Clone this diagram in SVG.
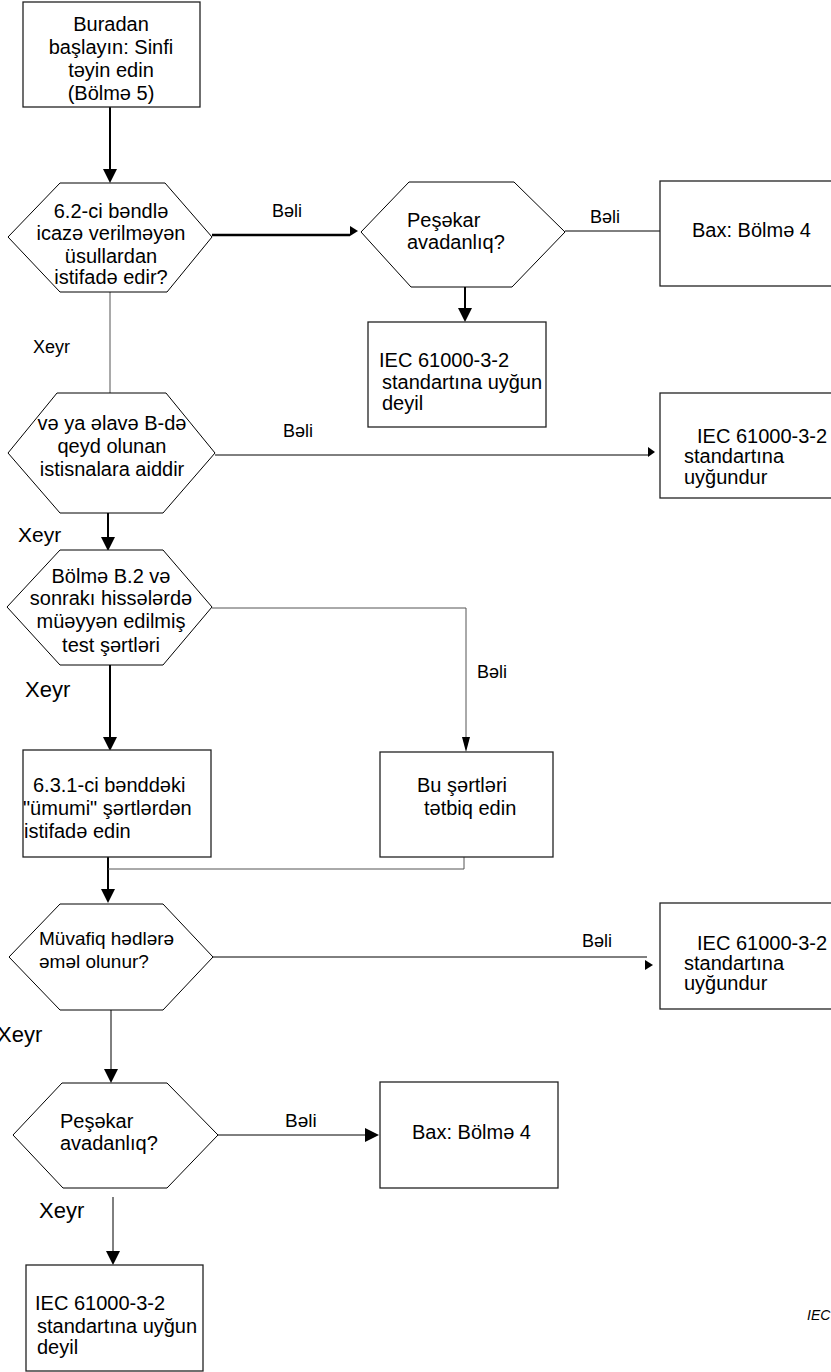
<svg xmlns="http://www.w3.org/2000/svg" width="831" height="1372" viewBox="0 0 831 1372">
<style>
.n{fill:#fff;stroke:#000;stroke-width:1}
.b{fill:#fff;stroke:#222;stroke-width:1.3}
text{font-family:"Liberation Sans",Arial,sans-serif;font-size:20px;fill:#000}
.c{text-anchor:middle}
.lbl{font-size:18px}
.thin{fill:none;stroke:#000;stroke-width:1}
.gray{fill:none;stroke:#555;stroke-width:1}
.thick{fill:none;stroke:#000;stroke-width:2}
.ah{fill:#000}
</style>
<defs>
<marker id="arr" viewBox="0 0 14 14" refX="0" refY="7" markerWidth="14" markerHeight="14" markerUnits="userSpaceOnUse" orient="auto"><path d="M0,0 L14,7 L0,14 Z" fill="#000"/></marker>
</defs>
<rect width="831" height="1372" fill="#fff"/>

<g id="connectors">
<path class="thick" d="M110,107 V169" marker-end="url(#arr)"/>
<path d="M212,235 H350" fill="none" stroke="#000" stroke-width="2.5"/>
<polygon class="ah" points="350,226 358,231 350,236"/>
<path class="thin" d="M565,231 H660"/>
<path class="thick" d="M465,287 V308" marker-end="url(#arr)"/>
<path class="gray" d="M110,292 V393"/>
<path class="thin" d="M215,455 H648"/>
<polygon class="ah" points="648,447 655,452 648,457"/>
<path class="thick" d="M108,513 V537" stroke-width="1.5" marker-end="url(#arr)"/>
<path class="gray" d="M212,608 H466 V737"/>
<polygon class="ah" points="462,737 470,737 466,752"/>
<path class="thick" d="M110,665 V737" marker-end="url(#arr)"/>
<path class="thick" d="M108,857 V889" marker-end="url(#arr)"/>
<path class="gray" d="M464,857 V869 H108"/>
<path class="thin" d="M213,957 H647"/>
<polygon class="ah" points="645,960 653,965 645,970"/>
<path class="thin" d="M111,1010 V1069" stroke-width="1.5" marker-end="url(#arr)"/>
<path class="thin" d="M218,1135 H365" marker-end="url(#arr)"/>
<path class="thin" d="M113,1197 V1251" stroke-width="1.5" marker-end="url(#arr)"/>
</g>

<g id="labels">
<text class="lbl" x="272" y="217">Bəli</text>
<text class="lbl" x="590" y="223">Bəli</text>
<text class="lbl" x="33" y="353">Xeyr</text>
<text class="lbl" x="283" y="437">Bəli</text>
<text x="18" y="542" style="font-size:21px">Xeyr</text>
<text class="lbl" x="477" y="678">Bəli</text>
<text x="25" y="697" style="font-size:22px">Xeyr</text>
<text class="lbl" x="582" y="947">Bəli</text>
<text x="-3" y="1042" style="font-size:22px">Xeyr</text>
<text x="285" y="1127" style="font-size:19px">Bəli</text>
<text x="39" y="1218" style="font-size:22px">Xeyr</text>
<text x="807" y="1320" style="font-size:14px;font-style:italic">IEC</text>
</g>

<g id="start">
<rect class="b" x="23" y="2" width="177" height="105"/>
<text class="c" x="111" y="31">Buradan</text>
<text class="c" x="111" y="54">başlayın: Sinfi</text>
<text class="c" x="111" y="77">təyin edin</text>
<text class="c" x="111" y="100">(Bölmə 5)</text>
</g>

<g id="q1">
<polygon class="n" points="8,237 60,183 165,183 212,237 167,292 60,292"/>
<text class="c" x="111" y="218">6.2-ci bəndlə</text>
<text class="c" x="111" y="240">icazə verilməyən</text>
<text class="c" x="111" y="263">üsullardan</text>
<text class="c" x="111" y="284">istifadə edir?</text>
</g>

<g id="q2">
<polygon class="n" points="361,232 409,182 514,182 565,232 512,287 411,287"/>
<text x="407" y="227">Peşəkar</text>
<text x="407" y="249">avadanlıq?</text>
</g>

<g id="see4a">
<rect class="b" x="660" y="181" width="180" height="105"/>
<text x="692" y="237">Bax: Bölmə 4</text>
</g>

<g id="noncomp1">
<rect class="b" x="368" y="322" width="178" height="105"/>
<text x="379" y="367">IEC 61000-3-2</text>
<text x="382" y="389">standartına uyğun</text>
<text x="382" y="410">deyil</text>
</g>

<g id="q3">
<polygon class="n" points="8,453 57,393 166,393 215,453 163,513 60,513"/>
<text class="c" x="112" y="430">və ya əlavə B-də</text>
<text class="c" x="112" y="453">qeyd olunan</text>
<text class="c" x="112" y="476">istisnalara aiddir</text>
</g>

<g id="comp1">
<rect class="b" x="660" y="393" width="180" height="105"/>
<text x="697" y="443">IEC 61000-3-2</text>
<text x="684" y="463">standartına</text>
<text x="684" y="484">uyğundur</text>
</g>

<g id="q4">
<polygon class="n" points="7,607 60,550 163,550 212,607 163,665 60,665"/>
<text class="c" x="111" y="583">Bölmə B.2 və</text>
<text class="c" x="111" y="605">sonrakı hissələrdə</text>
<text class="c" x="111" y="628">müəyyən edilmiş</text>
<text class="c" x="111" y="652">test şərtləri</text>
</g>

<g id="general">
<rect class="b" x="23" y="750" width="188" height="107"/>
<text x="33" y="792">6.3.1-ci bənddəki</text>
<text x="23" y="815">"ümumi" şərtlərdən</text>
<text x="24" y="838">istifadə edin</text>
</g>

<g id="apply">
<rect class="b" x="380" y="752" width="173" height="105"/>
<text x="417" y="792">Bu şərtləri</text>
<text x="424" y="815">tətbiq edin</text>
</g>

<g id="q5">
<polygon class="n" points="9,957 60,904 163,904 213,957 163,1010 60,1010"/>
<text x="39" y="945" style="font-size:19px">Müvafiq hədlərə</text>
<text x="39" y="968" style="font-size:19px">əməl olunur?</text>
</g>

<g id="comp2">
<rect class="b" x="660" y="903" width="180" height="106"/>
<text x="697" y="950">IEC 61000-3-2</text>
<text x="684" y="970">standartına</text>
<text x="684" y="990">uyğundur</text>
</g>

<g id="q6">
<polygon class="n" points="13,1135 62,1083 167,1083 218,1135 167,1188 63,1188"/>
<text x="60" y="1128">Peşəkar</text>
<text x="60" y="1150">avadanlıq?</text>
</g>

<g id="see4b">
<rect class="b" x="380" y="1082" width="178" height="106"/>
<text x="412" y="1139">Bax: Bölmə 4</text>
</g>

<g id="noncomp2">
<rect class="b" x="26" y="1265" width="177" height="106"/>
<text x="35" y="1310">IEC 61000-3-2</text>
<text x="37" y="1333">standartına uyğun</text>
<text x="37" y="1354">deyil</text>
</g>
</svg>
